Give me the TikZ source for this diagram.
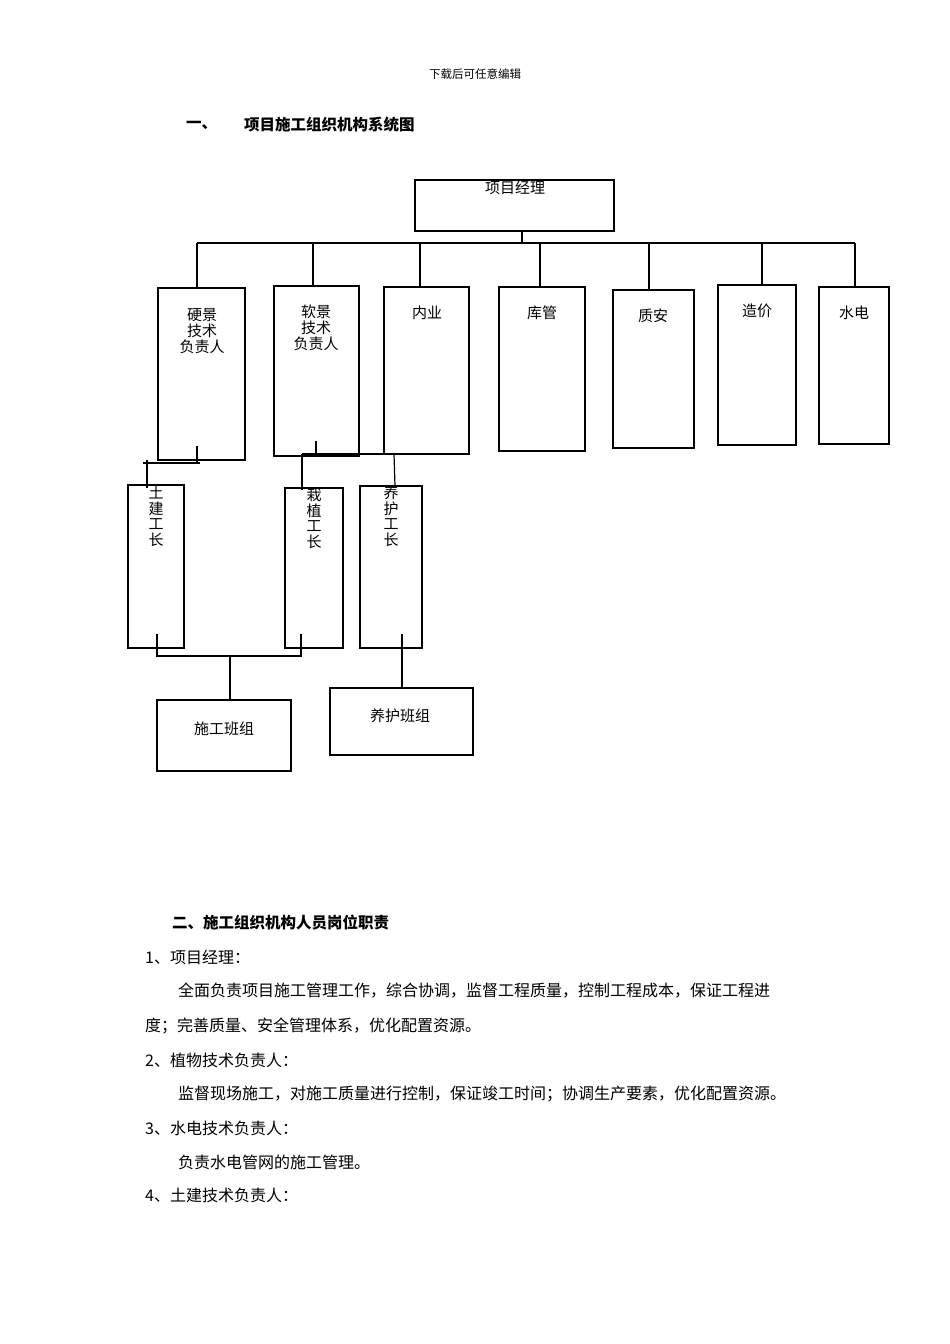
\documentclass[tikz,border=0pt]{standalone}
\usepackage{fontspec}
\setmainfont{Noto Sans CJK SC}
\newfontfamily\cjk{Noto Sans CJK SC}
\begin{document}
\begin{tikzpicture}[x=1pt,y=-1pt,
  bx/.style={draw,line width=1.2pt},
  ln/.style={line width=1.2pt},
  lab/.style={font=\fontsize{15}{16}\selectfont,align=center,anchor=north,inner sep=0},
  vlab/.style={font=\fontsize{15}{15.5}\selectfont,align=center,anchor=north,inner sep=0},
  txt/.style={font=\fontsize{16}{18}\selectfont,anchor=west,inner sep=0},
  bt/.style={font=\bfseries\fontsize{15.5}{18}\selectfont,anchor=west,inner sep=0}]
\useasboundingbox[fill=white] (0,0) rectangle (950,1344);
\node[font=\fontsize{11.5}{13}\selectfont,inner sep=0] (hdr) at (475,74) {下载后可任意编辑};
\node[bt] (t1a) at (186,125) {一、};
\node[bt] (t1b) at (244,125) {项目施工组织机构系统图};
% boxes
\draw[bx] (415,180) rectangle (614,231); \node[lab] (pm) at (515,181) {项目经理};
\draw[bx] (158,288) rectangle (245,460); \node[lab] (yj) at (202,308) {硬景\\技术\\负责人};
\draw[bx] (274,286) rectangle (359,456); \node[lab] (rj) at (316,305) {软景\\技术\\负责人};
\draw[bx] (384,287) rectangle (469,454); \node[lab] (ny) at (427,306) {内业};
\draw[bx] (499,287) rectangle (585,451); \node[lab] (kg) at (542,306) {库管};
\draw[bx] (613,290) rectangle (694,448); \node[lab] (za) at (653,309) {质安};
\draw[bx] (718,285) rectangle (796,445); \node[lab] (zj) at (757,304) {造价};
\draw[bx] (819,287) rectangle (889,444); \node[lab] (sd) at (854,306) {水电};
\draw[bx] (128,485) rectangle (184,648); \node[vlab] (tj) at (156,486) {土\\建\\工\\长};
\draw[bx] (285,488) rectangle (343,648); \node[vlab] (zz) at (314,488) {栽\\植\\工\\长};
\draw[bx] (360,486) rectangle (422,648); \node[vlab] (yh) at (391,486) {养\\护\\工\\长};
\draw[bx] (157,700) rectangle (291,771); \node[lab,anchor=center] (sg) at (224,729) {施工班组};
\draw[bx] (330,688) rectangle (473,755); \node[lab,anchor=center] (yb) at (400,716) {养护班组};
% connectors
\draw[ln] (522,231)--(522,243);
\draw[ln] (197,243)--(855,243);
\foreach \a/\b in {197/288,313/286,420/287,540/287,649/290,762/285,855/287}{\draw[ln] (\a,243)--(\a,\b);}
\draw[ln] (197,446)--(197,464);
\draw[ln] (143,463)--(200,463);
\draw[ln] (147,460)--(147,488);
\draw[ln] (316,441)--(316,457);
\draw[ln] (302,454)--(394,454);
\draw[ln] (302,454)--(302,490);
\draw[ln] (394,454)--(395,486);
\draw[ln] (157,634)--(157,657);
\draw[ln] (301,634)--(301,657);
\draw[ln] (157,656)--(301,656);
\draw[ln] (230,656)--(230,700);
\draw[ln] (402,634)--(402,688);
% text
\node[bt] (t2) at (172,923) {二、施工组织机构人员岗位职责};
\node[txt] (p1) at (145,957) {1、项目经理：};
\node[txt] (p2) at (178,991) {全面负责项目施工管理工作，综合协调，监督工程质量，控制工程成本，保证工程进};
\node[txt] (p3) at (145,1026) {度；完善质量、安全管理体系，优化配置资源。};
\node[txt] (p4) at (145,1060) {2、植物技术负责人：};
\node[txt] (p5) at (178,1094) {监督现场施工，对施工质量进行控制，保证竣工时间；协调生产要素，优化配置资源。};
\node[txt] (p6) at (145,1128) {3、水电技术负责人：};
\node[txt] (p7) at (178,1162) {负责水电管网的施工管理。};
\node[txt] (p8) at (145,1195) {4、土建技术负责人：};
\end{tikzpicture}
\end{document}
